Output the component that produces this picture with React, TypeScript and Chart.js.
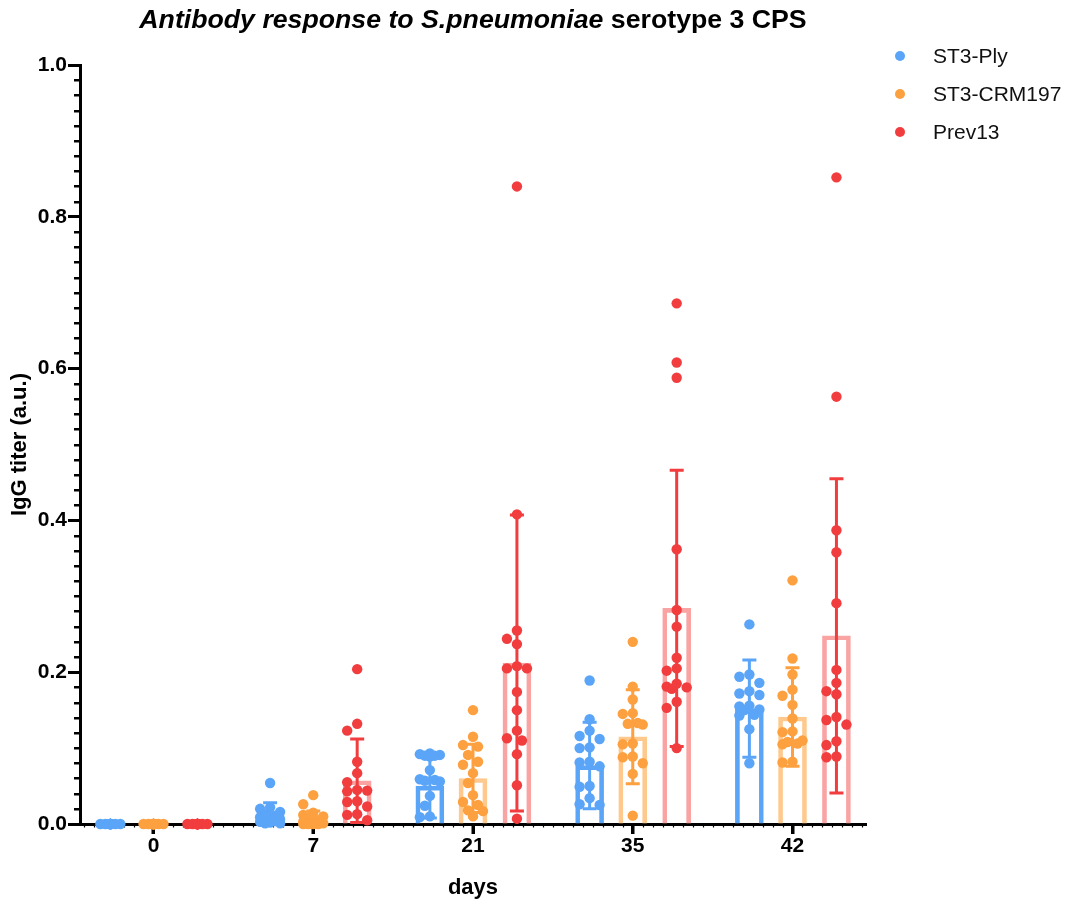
import React, { useEffect, useRef } from 'react';
import { Chart, registerables } from 'chart.js';
Chart.register(...registerables);

// ---------- data ----------
const days = ['0', '7', '21', '35', '42'];
const seriesNames = ['ST3-Ply', 'ST3-CRM197', 'Prev13'];
const titleItalic = 'Antibody response to S.pneumoniae';
const titlePlain = ' serotype 3 CPS';
const yTitle = 'IgG titer (a.u.)';
const xTitle = 'days';

const plyPoints = [
  [0, 0, 0, 0, 0, 0, 0, 0, 0, 0, 0, 0, 0, 0, 0],
  [0.054, 0.022, 0.02, 0.016, 0.013, 0.011, 0.009, 0.008, 0.006, 0.005, 0.004, 0.003, 0.002, 0.001, 0.001],
  [0.093, 0.092, 0.091, 0.09, 0.09, 0.089, 0.071, 0.059, 0.058, 0.057, 0.056, 0.037, 0.024, 0.01, 0.009],
  [0.189, 0.138, 0.123, 0.116, 0.112, 0.101, 0.1, 0.082, 0.081, 0.076, 0.05, 0.049, 0.034, 0.026, 0.025],
  [0.263, 0.197, 0.194, 0.186, 0.175, 0.172, 0.17, 0.156, 0.155, 0.151, 0.15, 0.144, 0.143, 0.125, 0.08],
];
const plyMean = [0, 0.012, 0.05, 0.077, 0.152];
const plySD = [0, 0.016, 0.042, 0.057, 0.064];

const crmPoints = [
  [0, 0, 0, 0, 0, 0, 0, 0, 0, 0, 0, 0, 0, 0, 0],
  [0.038, 0.026, 0.015, 0.012, 0.01, 0.008, 0.005, 0.003, 0.002, 0.001, 0.001, 0, 0, 0, 0],
  [0.15, 0.115, 0.104, 0.102, 0.091, 0.082, 0.078, 0.067, 0.054, 0.038, 0.029, 0.025, 0.018, 0.017, 0.01],
  [0.24, 0.181, 0.164, 0.146, 0.145, 0.133, 0.132, 0.131, 0.106, 0.105, 0.089, 0.088, 0.08, 0.066, 0.011],
  [0.321, 0.218, 0.197, 0.177, 0.169, 0.157, 0.139, 0.122, 0.121, 0.11, 0.108, 0.106, 0.105, 0.082, 0.081],
];
const crmMean = [0, 0.009, 0.06, 0.115, 0.141];
const crmSD = [0, 0.008, 0.045, 0.062, 0.065];

const prevPoints = [
  [0, 0, 0, 0, 0, 0, 0, 0, 0, 0, 0, 0, 0, 0, 0],
  [0.204, 0.132, 0.123, 0.082, 0.067, 0.055, 0.045, 0.044, 0.043, 0.03, 0.029, 0.023, 0.013, 0.012, 0.005],
  [0.84, 0.408, 0.255, 0.244, 0.237, 0.208, 0.205, 0.205, 0.174, 0.15, 0.123, 0.113, 0.11, 0.092, 0.051, 0.007],
  [0.686, 0.608, 0.588, 0.362, 0.282, 0.26, 0.219, 0.205, 0.202, 0.185, 0.181, 0.18, 0.178, 0.161, 0.153, 0.1],
  [0.852, 0.563, 0.387, 0.358, 0.291, 0.203, 0.186, 0.175, 0.171, 0.141, 0.137, 0.131, 0.109, 0.104, 0.089, 0.088],
];
const prevMean = [0, 0.057, 0.212, 0.284, 0.248];
const prevSD = [0, 0.055, 0.195, 0.182, 0.207];

const yTickValues = [0, 0.2, 0.4, 0.6, 0.8, 1.0];

// ---------- styling ----------
const FONT = '"Liberation Sans", Arial, sans-serif';
const dotColors = ['#5BA5F8', '#FCA040', '#F23D3F'];
const barColors = ['#5BA5F8', '#FFC98D', '#F9A3A3'];
const groupOffsets = [-0.27, 0, 0.275];
const PX_PER_X = 159.75;
const PX_PER_Y = 758;
const DOT_R = 5.2;

// deterministic column-scatter layout (beeswarm with limited width)
function swarm(values: number[]): number[] {
  const DOT = DOT_R * 2;
  const STEP = 5;
  const cands = [0, -1, 1, -2, 2].map((k) => k * STEP);
  const order = values.map((_, i) => i).sort((a, b) => values[b] - values[a]);
  const placed: { x: number; y: number }[] = [];
  const out = new Array(values.length).fill(0);
  for (const i of order) {
    const py = values[i] * PX_PER_Y;
    let best = 0;
    let bestD = -1;
    for (const c of cands) {
      let md = Infinity;
      for (const p of placed) {
        const d = Math.hypot(p.x - c, p.y - py);
        if (d < md) md = d;
      }
      if (md >= DOT) {
        best = c;
        bestD = Infinity;
        break;
      }
      if (md > bestD) {
        bestD = md;
        best = c;
      }
    }
    placed.push({ x: best, y: py });
    out[i] = best / PX_PER_X;
  }
  return out;
}

const allPoints = [plyPoints, crmPoints, prevPoints];
const allMeans = [plyMean, crmMean, prevMean];
const allSDs = [plySD, crmSD, prevSD];

const errorBarPlugin = {
  id: 'errorBars',
  afterDatasetDraw(chart: any, args: any) {
    const ds = chart.data.datasets[args.index];
    if (!ds.errorSD) return;
    const yScale = chart.scales.y;
    const ctx = chart.ctx;
    ctx.save();
    ctx.strokeStyle = ds.errorColor;
    ctx.lineWidth = 3;
    args.meta.data.forEach((el: any, j: number) => {
      const m = ds.data[j].y;
      const s = ds.errorSD[j];
      if (!s) return;
      const x = el.x;
      const lo = Math.max(0, m - s);
      const yt = yScale.getPixelForValue(m + s);
      const yb = yScale.getPixelForValue(lo);
      ctx.beginPath();
      ctx.moveTo(x, yt);
      ctx.lineTo(x, yb);
      ctx.moveTo(x - 7, yt);
      ctx.lineTo(x + 7, yt);
      if (lo > 0) {
        ctx.moveTo(x - 7, yb);
        ctx.lineTo(x + 7, yb);
      }
      ctx.stroke();
    });
    ctx.restore();
  },
};

const axisDecorPlugin = {
  id: 'axisDecor',
  beforeDatasetsDraw(chart: any) {
    const ctx = chart.ctx;
    const xScale = chart.scales.x;
    const yScale = chart.scales.y;
    const area = chart.chartArea;
    ctx.save();
    ctx.strokeStyle = '#000';
    // minor y ticks
    ctx.lineWidth = 2.5;
    for (let k = 1; k < 50; k++) {
      if (k % 10 === 0) continue;
      const py = Math.round(yScale.getPixelForValue(k * 0.02)) + 0.25;
      ctx.beginPath();
      ctx.moveTo(area.left - 6, py);
      ctx.lineTo(area.left, py);
      ctx.stroke();
    }
    // minor x ticks
    ctx.lineWidth = 1.2;
    for (let v = -0.4375; v <= 4.45; v += 0.0625) {
      const px = Math.round(xScale.getPixelForValue(v)) + 0.5;
      ctx.beginPath();
      ctx.moveTo(px, area.bottom);
      ctx.lineTo(px, area.bottom + 3.5);
      ctx.stroke();
    }
    // major x ticks
    ctx.lineWidth = 3;
    days.forEach((_, i) => {
      const px = Math.round(xScale.getPixelForValue(i));
      ctx.beginPath();
      ctx.moveTo(px, area.bottom);
      ctx.lineTo(px, area.bottom + 10);
      ctx.stroke();
    });
    ctx.restore();
  },
};

const textDecorPlugin = {
  id: 'textDecor',
  afterDraw(chart: any) {
    const ctx = chart.ctx;
    const area = chart.chartArea;
    ctx.save();
    // title (mixed styles)
    ctx.fillStyle = '#000';
    ctx.textBaseline = 'middle';
    ctx.textAlign = 'left';
    const fI = `italic bold 26.7px ${FONT}`;
    const fP = `bold 26.7px ${FONT}`;
    ctx.font = fI;
    const w1 = ctx.measureText(titleItalic).width;
    ctx.font = fP;
    const w2 = ctx.measureText(titlePlain).width;
    const cx = (area.left + area.right) / 2;
    const x0 = cx - (w1 + w2) / 2;
    ctx.font = fI;
    ctx.fillText(titleItalic, x0, 21);
    ctx.font = fP;
    ctx.fillText(titlePlain, x0 + w1, 21);
    // legend
    ctx.font = `21px ${FONT}`;
    seriesNames.forEach((name, i) => {
      const y = 56 + i * 38;
      ctx.fillStyle = dotColors[i];
      ctx.beginPath();
      ctx.arc(900, y, 5, 0, Math.PI * 2);
      ctx.fill();
      ctx.fillStyle = '#111';
      ctx.fillText(name, 933, y + 1);
    });
    ctx.restore();
  },
};

export default function App() {
  const ref = useRef<HTMLCanvasElement | null>(null);
  useEffect(() => {
    document.body.style.margin = '0';
    if (!ref.current) return;
    const datasets: any[] = [];
    allPoints.forEach((groups, s) => {
      const pts: any[] = [];
      groups.forEach((vals, d) => {
        const jit = swarm(vals);
        vals.forEach((v, k) => pts.push({ x: d + groupOffsets[s] + jit[k], y: v }));
      });
      datasets.push({
        type: 'scatter',
        label: seriesNames[s],
        data: pts,
        backgroundColor: dotColors[s],
        borderWidth: 0,
        pointRadius: DOT_R,
        pointHoverRadius: DOT_R,
        clip: false,
        order: 0,
      });
    });
    allMeans.forEach((means, s) => {
      datasets.push({
        type: 'bar',
        label: seriesNames[s] + ' mean',
        data: means.map((m, d) => ({ x: d + groupOffsets[s], y: m })),
        backgroundColor: 'rgba(0,0,0,0)',
        borderColor: barColors[s],
        borderWidth: 4,
        borderSkipped: 'start',
        barThickness: 28,
        grouped: false,
        errorSD: allSDs[s],
        errorColor: dotColors[s],
        order: 1,
      });
    });

    const chart = new Chart(ref.current, {
      type: 'scatter',
      data: { datasets },
      options: {
        animation: false,
        responsive: false,
        layout: { padding: { top: 65, right: 203, bottom: 0, left: 0 } },
        plugins: { legend: { display: false }, tooltip: { enabled: false } },
        scales: {
          x: {
            type: 'linear',
            min: -0.46,
            max: 4.46,
            offset: false,
            afterBuildTicks: (sc: any) => {
              sc.ticks = days.map((_, i) => ({ value: i }));
            },
            afterFit: (sc: any) => {
              sc.height = 81;
            },
            ticks: {
              callback: (v: any) => days[Math.round(v)] ?? '',
              color: '#000',
              font: { family: FONT, size: 21, weight: 'bold' },
              padding: 0,
              maxRotation: 0,
              autoSkip: false,
            },
            grid: { display: true, offset: false, drawOnChartArea: false, drawTicks: true, tickLength: 10, tickWidth: 3, tickColor: '#000' },
            border: { display: true, color: '#000', width: 3 },
            title: { display: true, text: xTitle, color: '#000', font: { family: FONT, size: 22, weight: 'bold' }, padding: { top: 0, bottom: 4 } },
          },
          y: {
            type: 'linear',
            min: 0,
            max: 1,
            afterBuildTicks: (sc: any) => {
              sc.ticks = yTickValues.map((v) => ({ value: v }));
            },
            afterFit: (sc: any) => {
              sc.width = 80;
            },
            ticks: {
              callback: (v: any) => Number(v).toFixed(1),
              color: '#000',
              font: { family: FONT, size: 21, weight: 'bold' },
              padding: 1,
              autoSkip: false,
            },
            grid: { display: true, offset: false, drawOnChartArea: false, drawTicks: true, tickLength: 12, tickWidth: 3, tickColor: '#000' },
            border: { display: true, color: '#000', width: 3 },
            title: { display: true, text: yTitle, color: '#000', font: { family: FONT, size: 22, weight: 'bold' }, padding: { top: 7, bottom: 0 } },
          },
        },
      },
      plugins: [errorBarPlugin, axisDecorPlugin, textDecorPlugin],
    } as any);
    return () => chart.destroy();
  }, []);
  return (
    <div style={{ width: 1069, height: 905 }}>
      <canvas ref={ref} width={1069} height={905} style={{ display: 'block' }} />
    </div>
  );
}
